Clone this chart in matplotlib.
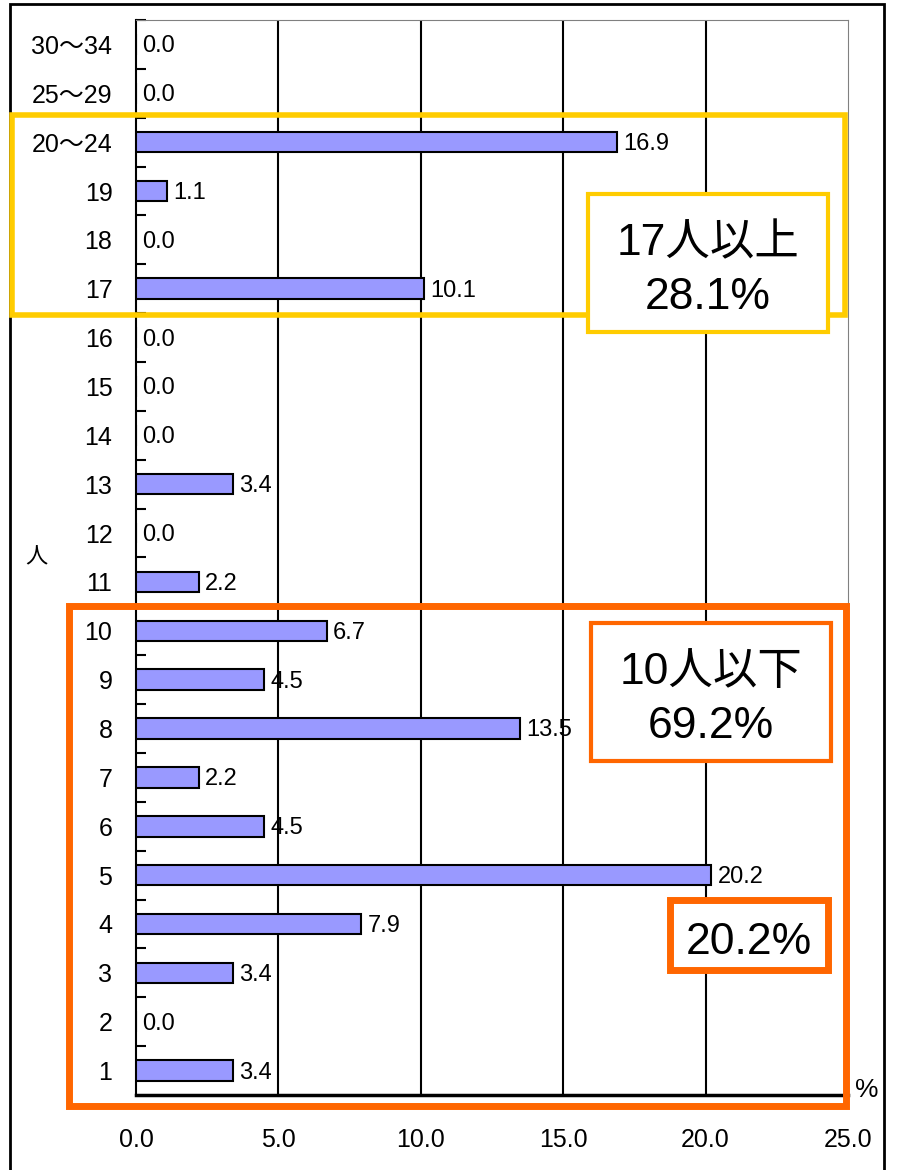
import matplotlib; matplotlib.use("agg")
import matplotlib.pyplot as plt
from matplotlib.patches import Rectangle

plt.rcParams['font.family'] = ['Liberation Sans', 'Noto Sans CJK JP', 'DejaVu Sans']

# data (bottom to top)
categories = ['1', '2', '3', '4', '5', '6', '7', '8', '9', '10', '11', '12',
              '13', '14', '15', '16', '17', '18', '19', '20～24', '25～29', '30～34']
values = [3.4, 0.0, 3.4, 7.9, 20.2, 4.5, 2.2, 13.5, 4.5, 6.7, 2.2, 0.0,
          3.4, 0.0, 0.0, 0.0, 10.1, 0.0, 1.1, 16.9, 0.0, 0.0]
xticks = [0, 5, 10, 15, 20, 25]

W, H = 897, 1170
fig = plt.figure(figsize=(W / 100, H / 100), dpi=100)

def fx(px):
    return px / W

def fy(py):
    return 1 - py / H

ax = fig.add_axes([fx(136), fy(1095), fx(848) - fx(136), fy(20) - fy(1095)])
ypos = list(range(len(categories)))
ax.barh(ypos, values, height=0.42, color='#9999FF', edgecolor='black', linewidth=1.5, zorder=3)
for y, v in zip(ypos, values):
    ax.text(v + 0.22, y - 0.04, f'{v:.1f}', va='center', ha='left', fontsize=17, zorder=4)

ax.set_xlim(0, 25)
ax.set_ylim(-0.5, len(categories) - 0.5)
ax.set_yticks(ypos)
ax.set_yticklabels(categories, fontsize=18)
ax.set_yticks([y + 0.5 for y in ypos], minor=True)
ax.tick_params(axis='y', which='major', length=0, pad=17)
ax.tick_params(axis='y', which='minor', direction='in', length=7, width=1.5)
ax.set_xticks(xticks)
ax.set_xticklabels([f'{t:.1f}' for t in xticks], fontsize=18,
                   family=['Liberation Sans Narrow', 'Liberation Sans'])
ax.tick_params(axis='x', length=0, pad=24)
for t in xticks[1:-1]:
    ax.axvline(t, color='black', lw=1.5, zorder=1)
ax.spines['top'].set_color('#808080')
ax.spines['right'].set_color('#808080')
ax.spines['left'].set_linewidth(1.5)
ax.spines['bottom'].set_linewidth(2.5)

# axis unit labels
fig.text(fx(36), fy(558), '人', fontsize=16, ha='center', va='center')
fig.text(fx(867), fy(1090), '%', fontsize=19, ha='center', va='center')

# outer frame
fig.add_artist(Rectangle((fx(10), fy(1175)), fx(884) - fx(10), fy(4) - fy(1175),
                         transform=fig.transFigure, fill=False, ec='black', lw=2))

# highlight boxes
yellow = '#FFCC00'
orange = '#FF6600'
fig.add_artist(Rectangle((fx(12), fy(315)), fx(845) - fx(12), fy(115) - fy(315),
                         transform=fig.transFigure, fill=False, ec=yellow, lw=4, zorder=5))
fig.add_artist(Rectangle((fx(69), fy(1106)), fx(846) - fx(69), fy(606) - fy(1106),
                         transform=fig.transFigure, fill=False, ec=orange, lw=5, zorder=5))

def label_box(x0, y0, x1, y1, color, text, lw):
    fig.add_artist(Rectangle((fx(x0), fy(y1)), fx(x1) - fx(x0), fy(y0) - fy(y1),
                             transform=fig.transFigure, fc='white', ec=color, lw=lw, zorder=6))
    fig.text((fx(x0) + fx(x1)) / 2, (fy(y0) + fy(y1)) / 2 - 0.0065, text, fontsize=32,
             ha='center', va='center', linespacing=1.42, zorder=7)

label_box(588, 194, 828, 332, yellow, '17人以上\n28.1%', 3)
label_box(591, 623, 831, 761, orange, '10人以下\n69.2%', 3)
label_box(670, 900, 828, 970, orange, '20.2%', 5)

fig.savefig('out.png', dpi=100)
